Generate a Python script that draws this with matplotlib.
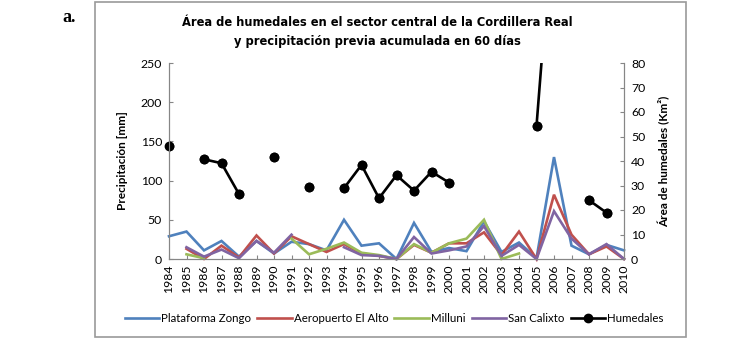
import numpy as np
import matplotlib.pyplot as plt
from matplotlib.patches import Rectangle

nan = np.nan

anios = list(range(1984, 2011))

# precipitacion previa acumulada 60 dias [mm]
zongo = [29, 35, 11, 23, 3, 23, 7, 22, 19, 11, 50, 17, 20, 0, 46, 9, 14, 10, 48, 9, 21, 1, 130, 17, 6, 18, 11]
el_alto = [nan, 13, 0, 17, 2, 30, 7, 29, 19, 9, 19, 7, 4, 0, 18, 8, 20, 20, 34, 5, 35, 0, 82, 31, 6, 16, 0]
milluni = [nan, 6, 1, nan, nan, nan, nan, 26, 6, 13, 21, 8, 5, 0, 19, 8, 20, 26, 50, 0, 7, nan, nan, nan, nan, nan, nan]
san_calixto = [nan, 15, 3, 12, 1, 23, 8, 31, nan, nan, 15, 5, 4, 0, 28, 7, 11, 16, 42, 4, 18, 0, 61, 26, 6, 19, 0]

# area de humedales [km2]
humedales = [46.2, nan, 40.7, 39.1, 26.5, nan, 41.8, nan, 29.3, nan, 28.9, 38.4, 24.8, 34.2, 27.9,
             35.6, 31.2, nan, nan, nan, nan, 54.3, 145, nan, 24.0, 18.9, nan]

fuente = ['Lato', 'DejaVu Sans']
plt.rcParams['font.family'] = fuente

fig = plt.figure(figsize=(7.48, 3.49), dpi=100)
ax = fig.add_axes([169/748, 1-259/349, (624-169)/748, (259-63)/349])
ax2 = ax.twinx()

x = np.arange(len(anios))
series = [
    (zongo, '#4F81BD', 'Plataforma Zongo'),
    (el_alto, '#C0504D', 'Aeropuerto El Alto'),
    (milluni, '#9BBB59', 'Milluni'),
    (san_calixto, '#8064A2', 'San Calixto'),
]
lineas = []
for datos, color, nombre in series:
    l, = ax.plot(x, datos, color=color, lw=1.9, label=nombre, clip_on=False,
                 solid_joinstyle='miter')
    lineas.append(l)

hum = np.array(humedales, dtype=float)
l_h, = ax2.plot(x, hum, color='black', lw=1.9, marker='o', ms=6, label='Humedales')
visibles = np.where(hum <= 80, hum, nan)
ax2.plot(x, visibles, 'o', color='black', ms=6, clip_on=False, ls='none')
lineas.append(l_h)

ax.set_xlim(0, len(anios) - 1)
ax.set_ylim(0, 250)
ax2.set_ylim(0, 80)
ax.set_yticks(range(0, 251, 50))
ax2.set_yticks(range(0, 81, 10))
ax.set_xticks(x)
ax.set_xticklabels([str(a) for a in anios], rotation=90, fontsize=8.8)

for a in (ax, ax2):
    for s in a.spines.values():
        s.set_color('#868686')
    a.spines['top'].set_visible(False)
    a.tick_params(direction='in', length=3, color='#868686', labelsize=8.8, pad=5)
ax.tick_params(axis='x', pad=4)

ax.set_ylabel('Precipitación [mm]', fontsize=8.5, fontweight='bold', labelpad=9)
ax2.set_ylabel('Área de humedales (Km²)', fontsize=8.5, fontweight='bold', labelpad=9)

titulo = dict(ha='center', va='center', fontsize=9.2, fontweight='bold',
              family=['DejaVu Sans'], fontstretch='condensed')
fig.text(377/748, 1-22/349, 'Área de humedales en el sector central de la Cordillera Real', **titulo)
fig.text(377/748, 1-41/349, 'y precipitación previa acumulada en 60 días', **titulo)
fig.text(62/748, 1-18/349, 'a.', ha='left', va='center', fontsize=13, fontweight='bold',
         family=['Liberation Serif', 'DejaVu Serif'])

fig.patches.append(Rectangle((95/748, 12/349), (686-95)/748, (347-12)/349, transform=fig.transFigure,
                             fill=False, edgecolor='#9a9a9a', lw=1.2))

fig.legend(lineas, [l.get_label() for l in lineas], loc='center', bbox_to_anchor=(394/748, 1-319/349),
           ncol=5, frameon=False, fontsize=8.3, handlelength=3.0, handletextpad=0.15, columnspacing=0.55)

fig.savefig('out.png', dpi=100)
